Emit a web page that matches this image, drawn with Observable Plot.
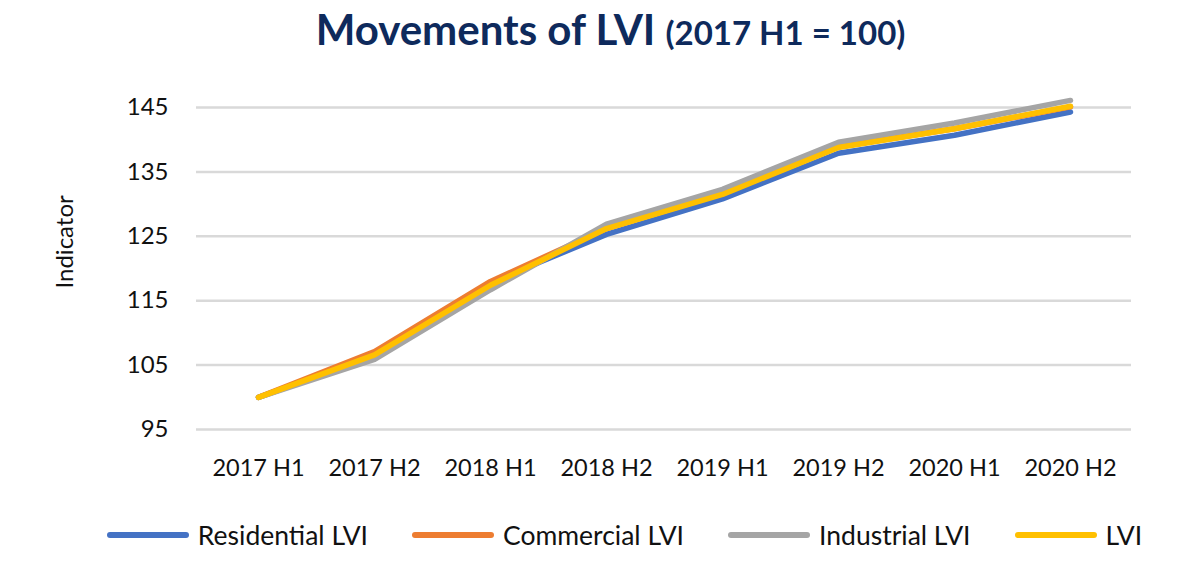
<!DOCTYPE html>
<html><head><meta charset="utf-8">
<script src="https://cdn.jsdelivr.net/npm/d3@7"></script>
<script src="https://cdn.jsdelivr.net/npm/@observablehq/plot@0.6"></script>
<style>
body{margin:0;background:#fff;font-family:Lato,"Open Sans",sans-serif;width:1199px;height:584px;overflow:hidden}
#title{height:70px;text-align:center;color:#0e2a5c;font-weight:bold;font-size:42px;line-height:58px;padding-left:22px;white-space:nowrap}
#title .sub{font-size:33px}
#legend{display:flex;justify-content:center;align-items:center;height:40px;margin-top:26px;padding-left:50px;font-size:26.5px;color:#111}
.item{display:flex;align-items:center;margin-right:44px}
.item:last-child{margin-right:0}
.sw{display:inline-block;width:82px;height:6px;border-radius:3px;margin-right:9px}
</style></head>
<body>
<div id="title">Movements of LVI <span class="sub">(2017 H1 = 100)</span></div>
<div id="chart"></div>
<div id="legend"></div>
<script>
const periods = ["2017 H1","2017 H2","2018 H1","2018 H2","2019 H1","2019 H2","2020 H1","2020 H2"];
const residential = [100, 106.4, 117.8, 125.3, 130.8, 137.9, 140.7, 144.3];
const commercial  = [100, 107.1, 118.0, 126.2, 131.7, 138.9, 141.7, 145.1];
const industrial  = [100, 105.9, 116.7, 126.9, 132.3, 139.6, 142.6, 146.1];
const lvi         = [100, 106.6, 117.4, 126.2, 131.5, 138.8, 141.7, 145.2];
const seriesNames = ["Residential LVI","Commercial LVI","Industrial LVI","LVI"];
const seriesColors = ["#4472C4","#ED7D31","#A5A5A5","#FFC000"];
const yTicks = [95,105,115,125,135,145];

const seriesValues = [residential, commercial, industrial, lvi];
const rows = [];
seriesNames.forEach((s,i)=>periods.forEach((p,j)=>rows.push({series:s, period:p, value:seriesValues[i][j]})));

const chart = Plot.plot({
  width:1199, height:419,
  marginLeft:196, marginRight:68, marginTop:37, marginBottom:60,
  style:{fontFamily:"Lato, 'Open Sans', sans-serif", fontSize:"23px", color:"#111", background:"#fff"},
  x:{type:"point", domain:periods, padding:0.5, label:null},
  y:{domain:[95,145], label:null},
  color:{domain:seriesNames, range:seriesColors},
  marks:[
    Plot.ruleY(yTicks, {stroke:"#d9d9d9", strokeWidth:2.5}),
    Plot.axisX({tickSize:0, tickPadding:30, fontSize:23.5, label:null}),
    Plot.axisY({ticks:yTicks, tickSize:0, tickPadding:28, fontSize:24, label:null}),
    Plot.text(["Indicator"], {frameAnchor:"left", rotate:-90, dx:-131, dy:20, fontSize:24, fill:"#111"}),
    Plot.line(rows, {x:"period", y:"value", z:"series", stroke:"series", strokeWidth:5.5, strokeLinecap:"round", strokeLinejoin:"round"})
  ]
});
document.getElementById("chart").appendChild(chart);

const legend = document.getElementById("legend");
seriesNames.forEach((s,i)=>{
  const it = document.createElement("div"); it.className="item";
  const sw = document.createElement("span"); sw.className="sw"; sw.style.background=seriesColors[i];
  const t = document.createElement("span"); t.textContent=s;
  it.appendChild(sw); it.appendChild(t); legend.appendChild(it);
});
</script>
</body></html>
